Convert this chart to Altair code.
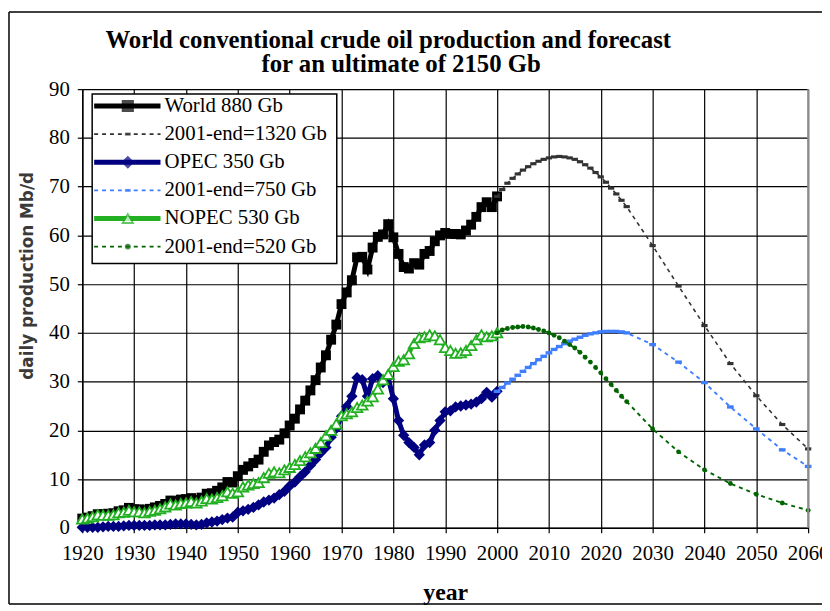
import altair as alt
import pandas as pd

# ---------------- data ----------------
hist_years = list(range(1920, 2001))
world_hist = [
    1.9, 2.1, 2.4, 2.8, 2.8, 2.9, 3.0, 3.4, 3.6, 4.1,
    3.8, 3.8, 3.6, 3.9, 4.2, 4.5, 4.9, 5.6, 5.5, 5.8,
    5.9, 6.1, 5.7, 6.2, 7.0, 7.1, 7.6, 8.3, 9.4, 9.3,
    10.6, 11.9, 12.6, 13.3, 14.0, 15.6, 16.9, 17.6, 18.1, 19.4,
    21.0, 22.4, 24.3, 26.1, 28.2, 30.3, 32.9, 35.4, 38.6, 41.7,
    45.9, 48.3, 50.8, 55.5, 55.6, 53.0, 57.5, 59.7, 60.2, 62.3,
    59.6, 56.2, 53.5, 53.2, 54.3, 54.0, 56.2, 56.8, 58.8, 60.0,
    60.5, 60.3, 60.3, 60.2, 61.0, 62.2, 63.8, 65.8, 66.8, 65.8,
    68.0,
]
opec_hist = [
    0.1, 0.1, 0.1, 0.1, 0.2, 0.3, 0.3, 0.3, 0.4, 0.5,
    0.5, 0.5, 0.5, 0.5, 0.6, 0.6, 0.6, 0.7, 0.8, 0.8,
    0.8, 0.7, 0.6, 0.7, 1.0, 1.2, 1.4, 1.7, 2.0, 2.2,
    3.2, 3.5, 3.8, 4.2, 4.7, 5.3, 5.7, 6.1, 6.8, 7.5,
    8.6, 9.4, 10.5, 11.5, 12.8, 14.0, 15.4, 16.5, 18.6, 20.4,
    22.9, 24.9, 27.0, 30.8, 30.4, 27.0, 30.6, 31.2, 29.8, 30.8,
    26.5, 22.0, 19.0, 17.5, 16.5, 15.0, 17.0, 17.5, 20.0, 22.0,
    23.8, 24.0, 24.8, 25.0, 25.2, 25.4, 25.8, 26.5, 27.8, 26.8,
    28.0,
]
nopec_hist = [
    1.8, 2.0, 2.3, 2.7, 2.6, 2.6, 2.7, 3.1, 3.2, 3.6,
    3.3, 3.3, 3.1, 3.4, 3.6, 3.9, 4.3, 4.9, 4.7, 5.0,
    5.1, 5.4, 5.1, 5.5, 6.0, 5.9, 6.2, 6.6, 7.4, 7.1,
    7.4, 8.4, 8.8, 9.1, 9.3, 10.3, 11.2, 11.5, 11.3, 11.9,
    12.4, 13.0, 13.8, 14.6, 15.4, 16.3, 17.5, 18.9, 20.0, 21.3,
    23.0, 23.4, 23.8, 24.7, 25.2, 26.0, 26.9, 28.5, 30.4, 31.5,
    33.1, 34.2, 34.5, 35.7, 37.8, 39.0, 39.2, 39.6, 39.4, 38.6,
    37.0, 36.4, 35.8, 35.9, 36.4, 37.4, 38.6, 39.6, 39.2, 39.4,
    40.0,
]

fc_years = list(range(2000, 2026)) + [2030, 2035, 2040, 2045, 2050, 2055, 2060]
world_fc = [
    68.0, 69.4, 70.7, 71.7, 72.6, 73.4, 74.1, 74.7, 75.2, 75.6,
    75.9, 76.1, 76.2, 76.1, 75.9, 75.6, 75.1, 74.5, 73.8, 72.9,
    72.0, 70.9, 69.7, 68.5, 67.2, 65.9,
    57.9, 49.6, 41.5, 33.7, 27.1, 21.2, 16.2,
]
opec_fc = [
    28.0, 28.8, 29.7, 30.5, 31.3, 32.1, 32.9, 33.7, 34.5, 35.2,
    35.9, 36.6, 37.2, 37.8, 38.3, 38.7, 39.1, 39.5, 39.8, 40.0,
    40.2, 40.3, 40.3, 40.3, 40.2, 40.0,
    37.6, 34.0, 29.8, 24.8, 20.3, 16.0, 12.6,
]
nopec_fc = [
    40.0, 40.6, 40.9, 41.1, 41.2, 41.3, 41.2, 41.0, 40.7, 40.4,
    40.0, 39.5, 39.0, 38.3, 37.6, 36.9, 36.0, 35.0, 34.0, 32.9,
    31.8, 30.6, 29.4, 28.2, 27.0, 25.9,
    20.3, 15.6, 11.9, 9.1, 6.9, 5.1, 3.6,
]

series_labels = ["World 880 Gb", "2001-end=1320 Gb", "OPEC 350 Gb",
                 "2001-end=750 Gb", "NOPEC 530 Gb", "2001-end=520 Gb"]
legend_texts = ["World 880 Gb", "\u00a02001-end=1320 Gb", "OPEC 350 Gb",
                "2001-end=750 Gb", "NOPEC 530 Gb", "2001-end=520 Gb"]
legend_rows = [0, 1, 2, 3, 4, 5]
x_ticks = list(range(1920, 2061, 10))
y_ticks = list(range(0, 91, 10))
x_domain = [1920, 2060]
y_domain = [0, 90]
title_lines = ["World conventional crude oil production and forecast",
               "for an ultimate of 2150 Gb"]

# ---------------- styles ----------------
BLACK = "#000000"
GRAY = "#333333"
NAVY = "#000080"
BLUE = "#3F7FFF"
GREEN = "#22B022"
DKGREEN = "#006400"
colors = [BLACK, GRAY, NAVY, BLUE, GREEN, DKGREEN]
BAR = "M-1,-0.5L1,-0.5L1,0.5L-1,0.5Z"
SERIF = "Liberation Serif"

W, H = 733, 443

xs = alt.Scale(domain=x_domain, nice=False, zero=False)
ys = alt.Scale(domain=y_domain, nice=False, zero=True)

x_axis = alt.Axis(values=x_ticks, format="d", title="year", grid=True,
                  labelFont=SERIF, labelFontSize=21, labelColor="black",
                  labelFlush=False, labelOverlap=False, labelPadding=10,
                  titleFont=SERIF, titleFontSize=24, titleFontWeight="bold",
                  titleColor="black", titleY=65, titleBaseline="middle")
y_axis = alt.Axis(values=y_ticks, title="daily production Mb/d", grid=True,
                  labelFont=SERIF, labelFontSize=21, labelColor="black",
                  labelFlush=False, labelOverlap=False, labelPadding=8,
                  titleFont="DejaVu Sans", titleFontSize=17, titleFontWeight="bold",
                  titleColor="#3a3a3a", titleAngle=270, titleX=-55, titleY=188,
                  titleAlign="center", titleBaseline="middle")

X = alt.X("year:Q", scale=xs, axis=x_axis, title="year")
Y = alt.Y("value:Q", scale=ys, axis=y_axis, title="daily production Mb/d")


def series_df(years, values):
    return pd.DataFrame({"year": years, "value": values})


def hist_layer(years, values, color, shape, size, width, fill=None):
    pt = dict(shape=shape, size=size, filled=True)
    if fill is None:
        pt["color"] = color
    else:
        pt["fill"] = fill
        pt["stroke"] = color
        pt["strokeWidth"] = 1.8
    return alt.Chart(series_df(years, values)).mark_line(
        color=color, strokeWidth=width, point=alt.OverlayMarkDef(**pt)
    ).encode(x=X, y=Y)


def fc_layer(years, values, color, shape, size, width):
    return alt.Chart(series_df(years, values)).mark_line(
        color=color, strokeWidth=width, strokeDash=[4, 4],
        point=alt.OverlayMarkDef(shape=shape, size=size, filled=True, color=color)
    ).encode(x=X, y=Y)


main = alt.layer(
    hist_layer(hist_years, world_hist, BLACK, "square", 100, 5),
    fc_layer(fc_years, world_fc, GRAY, BAR, 40, 1.6),
    hist_layer(hist_years, opec_hist, NAVY, "diamond", 130, 5),
    fc_layer(fc_years, opec_fc, BLUE, BAR, 46, 1.9),
    hist_layer(hist_years, nopec_hist, GREEN, "triangle-up", 115, 4, fill="white"),
    fc_layer(fc_years, nopec_fc, DKGREEN, "circle", 24, 1.9),
)

# ---------------- legend, title, frame (pixel decorations) ----------------
one = pd.DataFrame({"a": [0]})
leg_df = pd.DataFrame({"label": series_labels, "text": legend_texts, "row": legend_rows})
hist_labels = series_labels[0::2]
fc_labels = series_labels[1::2]
leg_y = alt.Y("row:Q", scale=alt.Scale(domain=[0, 5], range=[17, 159]), axis=None)
col_scale = alt.Scale(domain=series_labels, range=colors)
shape_scale = alt.Scale(domain=series_labels,
                        range=["square", BAR, "diamond", BAR, "triangle-up", "circle"])
fill_scale = alt.Scale(domain=series_labels,
                       range=[BLACK, GRAY, NAVY, BLUE, "#ffffff", DKGREEN])

right_edge = alt.Chart(one).mark_rule(color="#8c8c8c", strokeWidth=2).encode(
    x=alt.value(W), y=alt.value(0), y2=alt.value(H))

box = alt.Chart(one).mark_rect(fill="white", stroke="black", strokeWidth=1.5).encode(
    x=alt.value(10), x2=alt.value(257), y=alt.value(5), y2=alt.value(176))

leg_hist_line = alt.Chart(leg_df).mark_rule(strokeWidth=5).encode(
    x=alt.value(12), x2=alt.value(79), y=leg_y,
    color=alt.Color("label:N", scale=col_scale, legend=None),
).transform_filter(alt.FieldOneOfPredicate(field="label", oneOf=hist_labels))
leg_fc_line = alt.Chart(leg_df).mark_rule(strokeWidth=1.6, strokeDash=[4, 4]).encode(
    x=alt.value(12), x2=alt.value(79), y=leg_y,
    color=alt.Color("label:N", scale=col_scale, legend=None),
).transform_filter(alt.FieldOneOfPredicate(field="label", oneOf=fc_labels))
leg_hist_pt = alt.Chart(leg_df).mark_point(filled=True, size=110, strokeWidth=1.8).encode(
    x=alt.value(46), y=leg_y,
    shape=alt.Shape("label:N", scale=shape_scale, legend=None),
    fill=alt.Fill("label:N", scale=fill_scale, legend=None),
    stroke=alt.Stroke("label:N", scale=col_scale, legend=None),
).transform_filter(alt.FieldOneOfPredicate(field="label", oneOf=hist_labels))
leg_fc_pt = alt.Chart(leg_df).mark_point(filled=True, size=36, strokeWidth=0).encode(
    x=alt.value(46), y=leg_y,
    shape=alt.Shape("label:N", scale=shape_scale, legend=None),
    fill=alt.Fill("label:N", scale=fill_scale, legend=None),
).transform_filter(alt.FieldOneOfPredicate(field="label", oneOf=fc_labels))
leg_text = alt.Chart(leg_df).mark_text(
    align="left", baseline="middle", font=SERIF, fontSize=21, color="black"
).encode(x=alt.value(83), y=leg_y, text="text:N")

title_1 = alt.Chart(pd.DataFrame({"t": [title_lines[0]]})).mark_text(
    align="center", baseline="alphabetic", font=SERIF, fontSize=25,
    fontWeight="bold", color="black"
).encode(x=alt.value(309), y=alt.value(-42), text="t:N")
title_2 = alt.Chart(pd.DataFrame({"t": [title_lines[1]]})).mark_text(
    align="center", baseline="alphabetic", font=SERIF, fontSize=25,
    fontWeight="bold", color="black"
).encode(x=alt.value(322), y=alt.value(-17), text="t:N")

frame_left = alt.Chart(one).mark_rule(color="black", strokeWidth=1.5).encode(
    x=alt.value(-74), y=alt.value(-78), y2=alt.value(520))
frame_top = alt.Chart(one).mark_rule(color="black", strokeWidth=1.5).encode(
    x=alt.value(-74), x2=alt.value(747), y=alt.value(-78))
frame_bottom = alt.Chart(one).mark_rule(color="black", strokeWidth=1.5).encode(
    x=alt.value(-74), x2=alt.value(747), y=alt.value(520))

legend = alt.layer(right_edge, box, leg_hist_line, leg_fc_line, leg_hist_pt, leg_fc_pt,
                   leg_text, title_1, title_2, frame_left, frame_top, frame_bottom)

chart = alt.layer(main, legend).resolve_scale(y="independent").properties(
    width=W, height=H,
    autosize=alt.AutoSizeParams(type="none"),
    padding={"left": 75, "top": 79, "right": 14, "bottom": 80},
    background="white",
).configure_view(stroke=None).configure_axis(
    labelFont=SERIF, labelFontSize=21, labelColor="black",
    tickColor="black", tickSize=5, tickWidth=1.2,
    domainColor="black", domainWidth=1.5,
    gridColor="black", gridWidth=1.2, gridOpacity=1,
)

chart.save("out.html", embed_options={"renderer": "svg", "actions": False})
